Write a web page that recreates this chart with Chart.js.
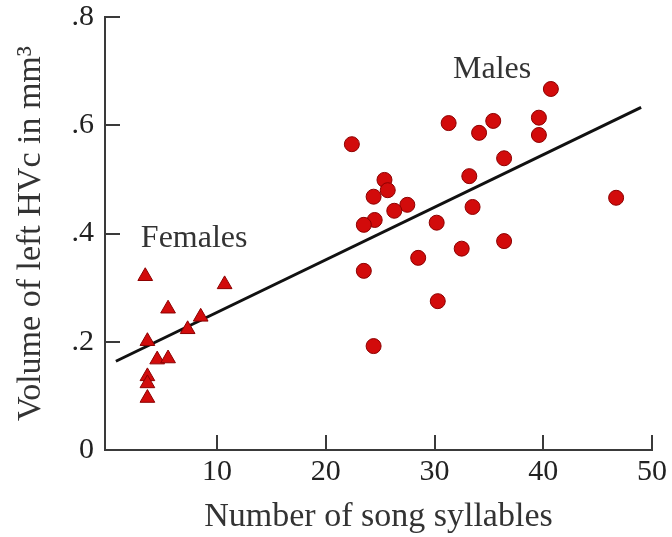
<!DOCTYPE html>
<html>
<head>
<meta charset="utf-8">
<script src="https://cdn.jsdelivr.net/npm/chart.js@4.4.0/dist/chart.umd.min.js"></script>
<style>
  html, body { margin: 0; padding: 0; background: #fff; }
</style>
</head>
<body>
<canvas id="hvcChart" width="672" height="537"></canvas>
<script>
// Males (circles)
const maleSyllables = [40.7, 39.6, 39.6, 35.4, 34.1, 31.3, 36.4, 33.2, 33.5, 30.2, 27.5, 26.3, 25.4,
  25.7, 24.4, 24.5, 23.5, 22.4, 23.5, 24.4, 28.5, 32.5, 36.4, 30.3, 46.7];
const maleVolume = [0.667, 0.614, 0.582, 0.608, 0.586, 0.604, 0.539, 0.506, 0.449, 0.420, 0.453, 0.442, 0.499,
  0.480, 0.468, 0.425, 0.416, 0.565, 0.331, 0.192, 0.355, 0.372, 0.386, 0.275, 0.466];

// Females (triangles)
const femaleSyllables = [3.4, 10.7, 5.5, 8.5, 7.3, 3.6, 4.5, 5.5, 3.6, 3.6, 3.6];
const femaleVolume = [0.321, 0.306, 0.261, 0.246, 0.223, 0.201, 0.167, 0.169, 0.136, 0.123, 0.096];

// regression line end points
const fitSyllables = [0.7, 49.0];
const fitVolume = [0.164, 0.633];

const xTicks = [10, 20, 30, 40, 50];
const yTicks = [0, 0.2, 0.4, 0.6, 0.8];

const groupNames = ['Males', 'Females'];
const groupAnchors = [[35.3, 0.687], [7.9, 0.375]];

const serif = '"Liberation Serif", "DejaVu Serif", serif';
const inkColor = '#333333';
const axisColor = '#3a3a3a';
const dotFill = '#d20b0b';
const dotEdge = '#8c0000';

function toPoints(xs, ys) {
    return xs.map((x, i) => ({ x: x, y: ys[i] }));
}

// ticks point into the plot, and the group names sit on it
const insideMarks = {
    id: 'insideMarks',
    afterDatasetsDraw(chart) {
        const { ctx, chartArea, scales: { x, y } } = chart;
        ctx.save();
        ctx.strokeStyle = axisColor;
        ctx.lineWidth = 2;
        ctx.beginPath();
        xTicks.forEach(v => {
            const px = Math.round(x.getPixelForValue(v));
            ctx.moveTo(px, chartArea.bottom);
            ctx.lineTo(px, chartArea.bottom - 15);
        });
        yTicks.filter(v => v > 0).forEach(v => {
            const py = Math.round(y.getPixelForValue(v));
            ctx.moveTo(chartArea.left, py);
            ctx.lineTo(chartArea.left + 15, py);
        });
        ctx.stroke();

        ctx.fillStyle = inkColor;
        ctx.font = '32px ' + serif;
        ctx.textAlign = 'center';
        ctx.textBaseline = 'alphabetic';
        groupNames.forEach((name, i) => {
            const [gx, gy] = groupAnchors[i];
            ctx.fillText(name, x.getPixelForValue(gx), y.getPixelForValue(gy));
        });
        ctx.restore();
    }
};

const ctx = document.getElementById('hvcChart').getContext('2d');
const chart = new Chart(ctx, {
    type: 'scatter',
    data: {
        datasets: [
            {
                label: 'Males',
                data: toPoints(maleSyllables, maleVolume),
                pointStyle: 'circle',
                pointRadius: 7.5,
                backgroundColor: dotFill,
                borderColor: dotEdge,
                borderWidth: 1
            },
            {
                label: 'Females',
                data: toPoints(femaleSyllables, femaleVolume),
                pointStyle: 'triangle',
                pointRadius: 8.5,
                backgroundColor: dotFill,
                borderColor: dotEdge,
                borderWidth: 1
            },
            {
                label: 'Fit',
                type: 'line',
                data: toPoints(fitSyllables, fitVolume),
                borderColor: '#111111',
                borderWidth: 3,
                pointRadius: 0,
                fill: false
            }
        ]
    },
    options: {
        responsive: false,
        animation: false,
        devicePixelRatio: 1,
        layout: { padding: { top: 17, right: 20, left: 0, bottom: 0 } },
        plugins: {
            legend: { display: false },
            tooltip: { enabled: false }
        },
        scales: {
            x: {
                type: 'linear',
                min: -0.3,
                max: 50,
                afterBuildTicks: scale => { scale.ticks = xTicks.map(v => ({ value: v })); },
                afterFit: scale => {
                    scale.height = 87;
                    scale.paddingLeft = 0;
                    scale.paddingRight = 0;
                },
                grid: { display: false, drawTicks: false },
                border: { display: true, color: axisColor, width: 2 },
                ticks: {
                    padding: 7,
                    color: '#222222',
                    maxRotation: 0,
                    font: { family: serif, size: 30, lineHeight: 1 }
                },
                title: {
                    display: true,
                    text: 'Number of song syllables',
                    color: inkColor,
                    font: { family: serif, size: 34, lineHeight: 1.2 },
                    padding: { bottom: 0 }
                }
            },
            y: {
                type: 'linear',
                min: 0,
                max: 0.8,
                afterBuildTicks: scale => { scale.ticks = yTicks.map(v => ({ value: v })); },
                afterFit: scale => {
                    scale.width = 105;
                    scale.paddingTop = 0;
                    scale.paddingBottom = 0;
                },
                grid: { display: false, drawTicks: false },
                border: { display: true, color: axisColor, width: 2 },
                ticks: {
                    padding: 11,
                    color: '#222222',
                    font: { family: serif, size: 30, lineHeight: 1 },
                    callback: v => (v === 0 ? '0' : String(v).replace(/^0/, ''))
                },
                title: {
                    display: true,
                    text: 'Volume of left HVc in mm³',
                    color: inkColor,
                    font: { family: serif, size: 34, lineHeight: 1.2 },
                    padding: { top: 11 }
                }
            }
        }
    },
    plugins: [insideMarks]
});
</script>
</body>
</html>
